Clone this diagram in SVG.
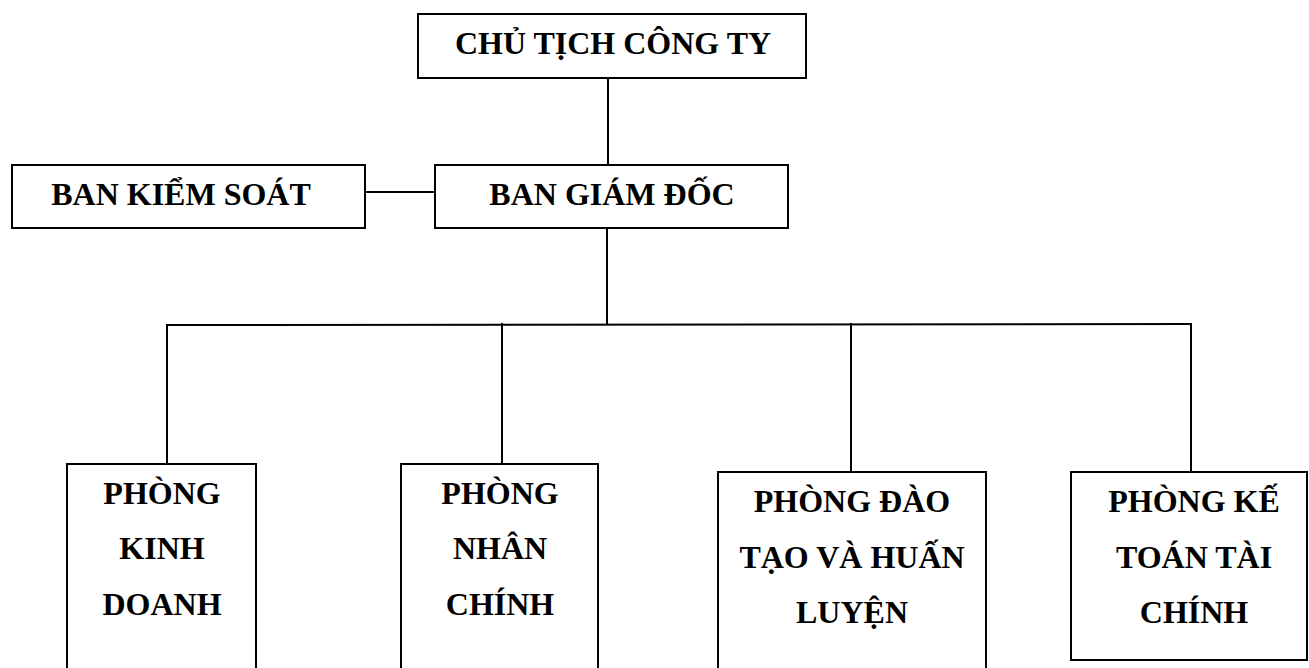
<svg xmlns="http://www.w3.org/2000/svg" width="1309" height="668" viewBox="0 0 1309 668">
<style>
.box{fill:#fff;stroke:#000;stroke-width:2}
.ln{fill:none;stroke:#000;stroke-width:2}
text{font-family:"Liberation Serif","Times New Roman",serif;font-weight:bold;font-size:32px;fill:#000;text-anchor:middle}
</style>
<rect width="1309" height="668" fill="#fff"/>
<g id="connectors">
<line class="ln" x1="608" y1="78" x2="608" y2="165"/>
<line class="ln" x1="365" y1="192" x2="435" y2="192"/>
<line class="ln" x1="607" y1="228" x2="607" y2="325"/>
<line class="ln" x1="166" y1="325" x2="1192" y2="324"/>
<line class="ln" x1="167" y1="325" x2="167" y2="464"/>
<line class="ln" x1="502" y1="323" x2="502" y2="464"/>
<line class="ln" x1="851" y1="323" x2="851" y2="472"/>
<line class="ln" x1="1191" y1="324" x2="1191" y2="472"/>
</g>
<g id="chu-tich">
<rect class="box" x="418" y="14" width="388" height="64"/>
<text x="613" y="54">CHỦ TỊCH CÔNG TY</text>
</g>
<g id="ban-kiem-soat">
<rect class="box" x="12" y="165" width="353" height="63"/>
<text x="181" y="205">BAN KIỂM SOÁT</text>
</g>
<g id="ban-giam-doc">
<rect class="box" x="435" y="165" width="353" height="63"/>
<text x="612" y="205">BAN GIÁM ĐỐC</text>
</g>
<g id="phong-kinh-doanh">
<rect class="box" x="67" y="464" width="189" height="220"/>
<text x="162" y="504">PHÒNG</text>
<text x="162" y="559">KINH</text>
<text x="162" y="615">DOANH</text>
</g>
<g id="phong-nhan-chinh">
<rect class="box" x="401" y="464" width="197" height="220"/>
<text x="500" y="504">PHÒNG</text>
<text x="500" y="559">NHÂN</text>
<text x="500" y="615">CHÍNH</text>
</g>
<g id="phong-dao-tao">
<rect class="box" x="718" y="472" width="268" height="220"/>
<text x="852" y="512">PHÒNG ĐÀO</text>
<text x="852" y="568">TẠO VÀ HUẤN</text>
<text x="852" y="623">LUYỆN</text>
</g>
<g id="phong-ke-toan">
<rect class="box" x="1071" y="472" width="236" height="188"/>
<text x="1194" y="512">PHÒNG KẾ</text>
<text x="1194" y="568">TOÁN TÀI</text>
<text x="1194" y="623">CHÍNH</text>
</g>
</svg>
